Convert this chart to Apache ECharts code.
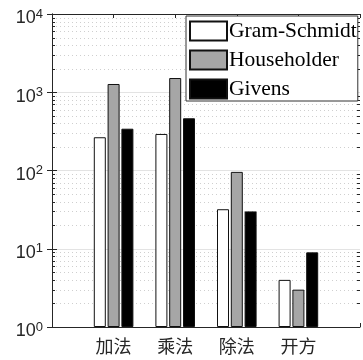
<!DOCTYPE html>
<html>
<head>
<meta charset="utf-8">
<script src="https://cdn.jsdelivr.net/npm/echarts@6/dist/echarts.min.js"></script>
<style>
  html, body { margin: 0; padding: 0; background: #fff; }
  #chart { width: 363px; height: 360px; }
</style>
</head>
<body>
<div id="chart"></div>
<script>
// Operation types on the x axis
const categories = ['加法', '乘法', '除法', '开方'];

// Operation counts per QR decomposition method
const gramSchmidt = [266, 293, 32, 4];
const householder = [1275, 1520, 96, 3];
const givens = [342, 465, 30, 9];

const seriesNames = ['Gram-Schmidt', 'Householder', 'Givens'];

// Log axis decades and the in-between minor steps
const decades = [1, 10, 100, 1000];
const minorSteps = [2, 3, 4, 5, 6, 7, 8, 9];
const minorValues = [];
decades.forEach(d => minorSteps.forEach(s => minorValues.push(d * s)));

const axisColor = '#262626';
const toPoints = arr => arr.map((v, i) => [i + 1, v]);

const chart = echarts.init(document.getElementById('chart'), null, { renderer: 'canvas' });

function barSeries(name, values, fill) {
  return {
    name: name,
    type: 'bar',
    data: toPoints(values),
    barWidth: 12,
    barGap: '15%',
    itemStyle: { color: fill, borderColor: '#111', borderWidth: 1 },
    z: 3
  };
}

const option = {
  backgroundColor: '#fff',
  animation: false,
  grid: { left: 52, top: 14, width: 315, height: 313, containLabel: false },
  legend: {
    orient: 'vertical',
    left: 186,
    top: 16,
    padding: [4, 1, 1, 3],
    itemGap: 7,
    itemWidth: 37,
    itemHeight: 19,
    backgroundColor: '#fff',
    borderColor: '#333',
    borderWidth: 1,
    icon: 'rect',
    textStyle: {
      fontFamily: 'Liberation Serif', fontSize: 21.5, lineHeight: 19,
      color: '#000', padding: [0, 0, 0, -3]
    },
    data: seriesNames
  },
  xAxis: [
    {
      type: 'value', min: 0, max: 5, interval: 1,
      axisLine: { lineStyle: { color: axisColor, width: 1 } },
      axisTick: { inside: true, length: 4, lineStyle: { color: axisColor } },
      axisLabel: {
        margin: 10,
        fontFamily: 'Noto Sans CJK SC', fontSize: 18, color: axisColor,
        formatter: v => (v >= 1 && v <= categories.length ? categories[v - 1] : '')
      },
      splitLine: { show: false }
    },
    {
      type: 'value', min: 0, max: 5, interval: 1, position: 'top',
      axisLine: { lineStyle: { color: axisColor, width: 1 } },
      axisTick: { inside: true, length: 4, lineStyle: { color: axisColor } },
      axisLabel: { show: false },
      splitLine: { show: false }
    }
  ],
  yAxis: [
    {
      type: 'log', logBase: 10, min: 1, max: 10000,
      axisLine: { show: true, lineStyle: { color: axisColor, width: 1 } },
      axisTick: { show: true, inside: true, length: 5, lineStyle: { color: axisColor } },
      axisLabel: {
        margin: 9,
        padding: [9, 0, 0, 0],
        formatter: v => '{a|10}{b|' + Math.round(Math.log10(v)) + '}',
        rich: {
          a: { fontFamily: 'Liberation Sans', fontSize: 18, lineHeight: 22, color: axisColor },
          b: { fontFamily: 'Liberation Sans', fontSize: 13, lineHeight: 13, color: axisColor, verticalAlign: 'top' }
        }
      },
      splitLine: { show: true, lineStyle: { color: '#e3e3e3', width: 1 } }
    },
    {
      type: 'log', logBase: 10, min: 1, max: 10000, position: 'right',
      axisLine: { show: true, lineStyle: { color: axisColor, width: 1 } },
      axisTick: { show: true, inside: true, length: 5, lineStyle: { color: axisColor } },
      axisLabel: { show: false },
      splitLine: { show: false }
    }
  ],
  series: [
    {
      // dotted minor grid plus inward minor ticks at 2..9 of each decade
      type: 'custom',
      silent: true,
      z: 1,
      data: minorValues.map(v => [0, v]),
      renderItem: function (params, api) {
        const cs = params.coordSys;
        const y = Math.round(api.coord([0, api.value(1)])[1]) + 0.5;
        const x0 = cs.x, x1 = cs.x + cs.width;
        return {
          type: 'group',
          children: [
            { type: 'line', shape: { x1: x0, y1: y, x2: x1, y2: y },
              style: { stroke: '#cfcfcf', lineWidth: 1, lineDash: [1, 3] } },
            { type: 'line', shape: { x1: x0, y1: y, x2: x0 + 3, y2: y },
              style: { stroke: axisColor, lineWidth: 1 } },
            { type: 'line', shape: { x1: x1, y1: y, x2: x1 - 3, y2: y },
              style: { stroke: axisColor, lineWidth: 1 } }
          ]
        };
      }
    },
    barSeries(seriesNames[0], gramSchmidt, '#ffffff'),
    barSeries(seriesNames[1], householder, '#a6a6a6'),
    barSeries(seriesNames[2], givens, '#000000')
  ]
};

chart.setOption(option);
</script>
</body>
</html>
